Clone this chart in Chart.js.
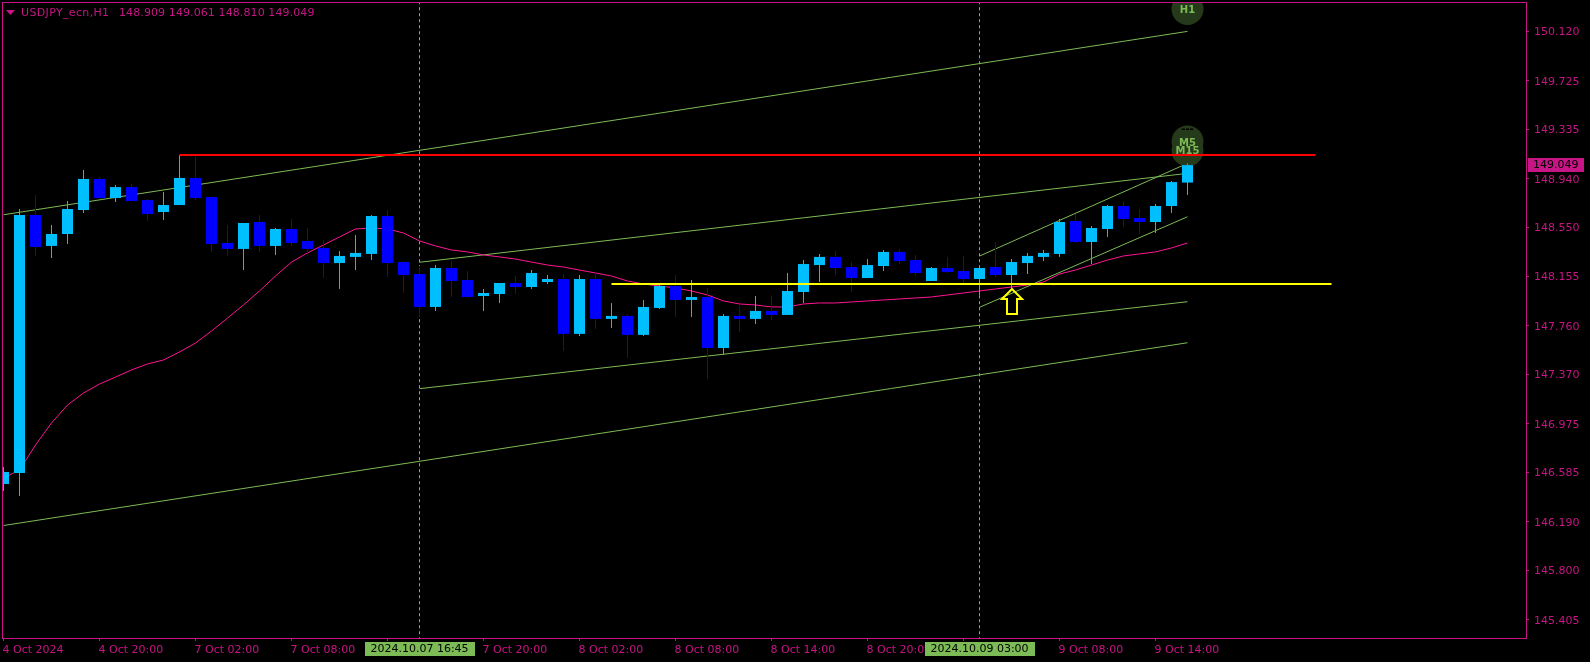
<!DOCTYPE html>
<html lang="en">

<head>
    <meta charset="UTF-8" />
    <title>USDJPY_ecn,H1</title>
    <script src="https://cdn.jsdelivr.net/npm/chart.js"></script>
    <style>
        html, body { margin: 0; padding: 0; background: #000; overflow: hidden; }
        canvas { display: block; }
    </style>
</head>

<body>
    <canvas id="grafico" width="1590" height="662"></canvas>

    <script>
        // candle values, one entry per hour
        const opens = [146.493, 146.581, 148.649, 148.401, 148.497, 148.689, 148.938, 148.785, 148.873, 148.769,
            148.673, 148.729, 148.946, 148.793, 148.425, 148.377, 148.593, 148.401, 148.537, 148.441,
            148.385, 148.264, 148.313, 148.337, 148.641, 148.272, 148.176, 147.912, 148.224, 148.128,
            148.000, 148.016, 148.104, 148.072, 148.112, 148.136, 147.696, 148.136, 147.816, 147.840,
            147.688, 147.904, 148.080, 147.968, 147.992, 147.583, 147.840, 147.816, 147.880, 147.848,
            148.032, 148.248, 148.313, 148.232, 148.144, 148.240, 148.353, 148.288, 148.120, 148.224,
            148.200, 148.136, 148.232, 148.168, 148.264, 148.313, 148.337, 148.601, 148.433, 148.537,
            148.721, 148.625, 148.593, 148.721, 148.909];
        const highs = [146.629, 148.697, 148.809, 148.569, 148.761, 149.010, 148.954, 148.889, 148.897, 148.777,
            148.833, 149.130, 149.114, 148.793, 148.569, 148.585, 148.649, 148.545, 148.617, 148.545,
            148.449, 148.361, 148.489, 148.649, 148.689, 148.280, 148.240, 148.248, 148.280, 148.200,
            148.056, 148.104, 148.160, 148.208, 148.168, 148.176, 148.168, 148.184, 147.944, 147.856,
            147.968, 148.104, 148.168, 148.128, 148.064, 147.856, 147.952, 148.000, 148.000, 148.184,
            148.288, 148.337, 148.361, 148.272, 148.296, 148.369, 148.377, 148.329, 148.232, 148.313,
            148.321, 148.224, 148.433, 148.296, 148.345, 148.369, 148.617, 148.657, 148.561, 148.729,
            148.761, 148.697, 148.737, 148.921, 149.061];
        const lows = [146.437, 146.397, 148.321, 148.304, 148.417, 148.665, 148.780, 148.753, 148.761, 148.601,
            148.609, 148.729, 148.769, 148.353, 148.321, 148.208, 148.353, 148.329, 148.401, 148.329,
            148.144, 148.056, 148.208, 148.288, 148.152, 148.024, 147.840, 147.880, 147.992, 147.984,
            147.880, 147.944, 148.016, 148.056, 148.096, 147.559, 147.680, 147.736, 147.744, 147.503,
            147.680, 147.896, 147.832, 147.832, 147.334, 147.527, 147.712, 147.776, 147.808, 147.848,
            147.944, 148.112, 148.168, 148.032, 148.144, 148.200, 148.256, 148.160, 148.120, 148.184,
            148.104, 148.008, 148.152, 148.064, 148.176, 148.280, 148.313, 148.425, 148.256, 148.473,
            148.553, 148.497, 148.505, 148.665, 148.810];
        const closes = [146.589, 148.649, 148.393, 148.497, 148.697, 148.938, 148.785, 148.873, 148.761, 148.657,
            148.729, 148.946, 148.785, 148.417, 148.377, 148.585, 148.401, 148.537, 148.425, 148.377,
            148.264, 148.321, 148.345, 148.641, 148.264, 148.168, 147.912, 148.224, 148.120, 147.992,
            148.024, 148.104, 148.072, 148.184, 148.136, 147.696, 148.136, 147.816, 147.840, 147.688,
            147.912, 148.080, 147.968, 147.992, 147.583, 147.840, 147.816, 147.880, 147.848, 148.040,
            148.256, 148.313, 148.224, 148.144, 148.248, 148.353, 148.280, 148.184, 148.224, 148.192,
            148.136, 148.224, 148.168, 148.272, 148.321, 148.345, 148.593, 148.433, 148.545, 148.721,
            148.617, 148.593, 148.721, 148.913, 149.049];

        // pink moving average
        const movingAverage = [146.541, 146.605, 146.805, 146.982, 147.126, 147.222, 147.294, 147.350, 147.407, 147.455,
            147.487, 147.551, 147.623, 147.719, 147.823, 147.928, 148.040, 148.160, 148.272, 148.345,
            148.409, 148.473, 148.537, 148.545, 148.537, 148.505, 148.441, 148.401, 148.369, 148.353,
            148.329, 148.313, 148.296, 148.272, 148.248, 148.232, 148.208, 148.184, 148.160, 148.120,
            148.096, 148.080, 148.064, 148.040, 148.008, 147.960, 147.936, 147.928, 147.912, 147.912,
            147.936, 147.944, 147.944, 147.952, 147.960, 147.968, 147.976, 147.984, 147.992, 148.008,
            148.024, 148.040, 148.056, 148.072, 148.088, 148.112, 148.176, 148.208, 148.248, 148.288,
            148.321, 148.337, 148.353, 148.385, 148.425];

        // trend lines: first bar, last bar, price at each end
        const trendStartBars = [0, 0, 26, 26, 61, 61];
        const trendEndBars = [74, 74, 74, 74, 74, 74];
        const trendStartPrices = [148.651, 146.160, 148.270, 147.257, 148.320, 147.909];
        const trendEndPrices = [150.121, 147.625, 148.983, 147.954, 149.063, 148.635];

        // horizontal levels: red and yellow
        const levelPrices = [149.130, 148.096];
        const levelStartBars = [11, 38];
        const levelEndBars = [82, 83];
        const levelColors = ['#FF0000', '#FFFF00'];

        // dashed verticals and their time labels
        const markerBars = [26, 61];
        const markerLabels = ['2024.10.07 16:45', '2024.10.09 03:00'];

        // timeframe bubbles
        const bubbleBars = [74, 74, 74];
        const bubblePrices = [150.300, 149.238, 149.166];
        const bubbleLabels = ['H1', 'M5', 'M15'];

        const arrowBar = 63;
        const arrowPrice = 148.064;

        const priceTicks = [150.120, 149.725, 149.335, 148.940, 148.550, 148.155, 147.760, 147.370, 146.975, 146.585, 146.190, 145.800, 145.405];
        const timeTickBars = [0, 6, 12, 18, 24, 30, 36, 42, 48, 54, 60, 66, 72];
        const timeTickLabels = ['4 Oct 2024', '4 Oct 20:00', '7 Oct 02:00', '7 Oct 08:00', '7 Oct 14:00', '7 Oct 20:00', '8 Oct 02:00',
            '8 Oct 08:00', '8 Oct 14:00', '8 Oct 20:00', '9 Oct 02:00', '9 Oct 08:00', '9 Oct 14:00'];

        const headerSymbol = 'USDJPY_ecn,H1';
        const headerValues = '148.909 149.061 148.810 149.049';
        const lastPrice = 149.049;

        const axisColor = '#C71585';
        const lineGreen = '#7CBB55';
        const bullColor = '#00BFFF';
        const bearColor = '#0000FF';
        const fontName = '"DejaVu Sans"';

        const bars = closes.map((c, i) => i);
        const candleColors = bars.map(i => closes[i] >= opens[i] ? bullColor : bearColor);

        const datasets = [];

        // dashed verticals, behind everything
        markerBars.forEach(b => {
            datasets.push({
                type: 'line', data: [{ x: b, y: 145 }, { x: b, y: 151 }],
                borderColor: lineGreen, borderWidth: 1, borderDash: [3, 3], pointRadius: 0, order: 60
            });
        });

        // trend lines
        trendStartBars.forEach((b, i) => {
            datasets.push({
                type: 'line', data: [{ x: b, y: trendStartPrices[i] }, { x: trendEndBars[i], y: trendEndPrices[i] }],
                borderColor: lineGreen, borderWidth: 1, pointRadius: 0, order: 50
            });
        });

        // moving average
        datasets.push({
            type: 'line', data: bars.map(i => ({ x: i, y: movingAverage[i] })),
            borderColor: '#FF1493', borderWidth: 1, pointRadius: 0, tension: 0, order: 45
        });

        // bubbles with the timeframe text
        datasets.push({
            type: 'scatter', label: 'bubbles', data: bubbleBars.map((b, i) => ({ x: b, y: bubblePrices[i] })),
            backgroundColor: '#253A1A', borderWidth: 0, pointRadius: 16, pointHoverRadius: 16, order: 40
        });

        // candles: wick then body, both floating bars
        datasets.push({
            type: 'bar', data: bars.map(i => ({ x: i, y: [lows[i], highs[i]] })),
            backgroundColor: candleColors, barThickness: 1, grouped: false, inflateAmount: 0, order: 30
        });
        datasets.push({
            type: 'bar', data: bars.map(i => ({ x: i, y: [opens[i], closes[i]] })),
            backgroundColor: candleColors, barThickness: 11, grouped: false, inflateAmount: 0, order: 20
        });

        // red and yellow levels over the candles
        levelPrices.forEach((p, i) => {
            datasets.push({
                type: 'line', data: [{ x: levelStartBars[i], y: p }, { x: levelEndBars[i], y: p }],
                borderColor: levelColors[i], borderWidth: 2, pointRadius: 0, order: 10
            });
        });

        // text and small shapes that Chart.js has no element for
        const anotacoes = {
            id: 'anotacoes',
            beforeDatasetsDraw(chart) {
                const ctx = chart.ctx;
                const a = chart.chartArea;
                ctx.save();
                ctx.strokeStyle = axisColor;
                ctx.lineWidth = 1;
                ctx.strokeRect(a.left - 0.5, a.top - 0.5, a.right - a.left + 1, a.bottom - a.top + 1);
                ctx.restore();
            },
            afterDatasetDraw(chart, args) {
                if (args.meta.label !== 'bubbles') return;
                const ctx = chart.ctx;
                ctx.save();
                ctx.font = 'bold 10px ' + fontName;
                ctx.fillStyle = lineGreen;
                ctx.textAlign = 'center';
                ctx.textBaseline = 'middle';
                bubbleLabels.forEach((t, i) => {
                    const x = chart.scales.x.getPixelForValue(bubbleBars[i]);
                    const y = chart.scales.y.getPixelForValue(bubblePrices[i]);
                    ctx.fillText(t, x, y + (i === 1 ? 2 : 1));
                });
                ctx.fillStyle = '#000';
                ctx.fillText('---', chart.scales.x.getPixelForValue(bubbleBars[1]), chart.scales.y.getPixelForValue(bubblePrices[1]) - 12);
                ctx.restore();
            },
            afterDraw(chart) {
                const ctx = chart.ctx;
                const sx = chart.scales.x;
                const sy = chart.scales.y;
                ctx.save();

                // arrow
                const ax = Math.round(sx.getPixelForValue(arrowBar));
                const ay = sy.getPixelForValue(arrowPrice);
                ctx.strokeStyle = '#FFFF00';
                ctx.lineWidth = 2;
                ctx.beginPath();
                ctx.moveTo(ax, ay + 1);
                ctx.lineTo(ax + 10, ay + 11);
                ctx.lineTo(ax + 5, ay + 11);
                ctx.lineTo(ax + 5, ay + 26);
                ctx.lineTo(ax - 5, ay + 26);
                ctx.lineTo(ax - 5, ay + 11);
                ctx.lineTo(ax - 10, ay + 11);
                ctx.closePath();
                ctx.stroke();

                ctx.font = '11px ' + fontName;
                ctx.textBaseline = 'middle';

                // header
                ctx.fillStyle = axisColor;
                ctx.beginPath();
                ctx.moveTo(6, 10);
                ctx.lineTo(15, 10);
                ctx.lineTo(10.5, 15);
                ctx.closePath();
                ctx.fill();
                ctx.textAlign = 'left';
                ctx.letterSpacing = '0.35px';
                ctx.fillText(headerSymbol, 21, 13);
                ctx.letterSpacing = '0.1px';
                ctx.fillText(headerValues, 119, 13);
                ctx.letterSpacing = '0px';

                // time labels on the dashed lines
                ctx.textAlign = 'center';
                markerBars.forEach((b, i) => {
                    const x = sx.getPixelForValue(b);
                    ctx.fillStyle = lineGreen;
                    ctx.fillRect(Math.round(x) - 55, 642, 110, 14);
                    ctx.fillStyle = '#000';
                    ctx.fillText(markerLabels[i], x, 649.5);
                });

                // last price box
                const py = Math.round(sy.getPixelForValue(lastPrice));
                ctx.fillStyle = axisColor;
                ctx.fillRect(1528, py - 7, 56, 14);
                ctx.fillStyle = '#000';
                ctx.textAlign = 'left';
                ctx.fillText(lastPrice.toFixed(3), 1533, py + 0.5);
                ctx.restore();
            }
        };

        // no label overflow padding, the plot area has to stay where it is
        function semPadding(axis) {
            axis.paddingTop = 0;
            axis.paddingBottom = 0;
            axis.paddingLeft = 0;
            axis.paddingRight = 0;
        }

        new Chart(document.getElementById('grafico'), {
            type: 'bar',
            data: { datasets: datasets },
            plugins: [anotacoes],
            options: {
                responsive: false,
                animation: false,
                devicePixelRatio: 1,
                layout: { autoPadding: false, padding: { left: 3, top: 3, right: 0, bottom: 0 } },
                plugins: { legend: { display: false }, tooltip: { enabled: false } },
                events: [],
                scales: {
                    x: {
                        type: 'linear',
                        offset: false,
                        min: -0.03125,
                        max: 95.15625,
                        afterBuildTicks: axis => { axis.ticks = timeTickBars.map(v => ({ value: v })); },
                        afterFit: axis => { axis.height = 24; semPadding(axis); },
                        grid: { offset: false, drawOnChartArea: false, tickColor: axisColor, tickLength: 3 },
                        border: { display: false },
                        ticks: {
                            autoSkip: false, maxRotation: 0, align: 'start', labelOffset: -1, padding: 3,
                            color: axisColor, font: { family: 'DejaVu Sans', size: 11 },
                            callback: (v, i) => timeTickLabels[i]
                        }
                    },
                    y: {
                        position: 'right',
                        min: 145.2583,
                        max: 150.3485,
                        afterBuildTicks: axis => { axis.ticks = priceTicks.map(v => ({ value: v })); },
                        afterFit: axis => { axis.width = 64; semPadding(axis); },
                        grid: { drawOnChartArea: false, tickColor: axisColor, tickLength: 3 },
                        border: { display: false },
                        ticks: {
                            autoSkip: false, padding: 5, crossAlign: 'near', labelOffset: 1,
                            color: axisColor, font: { family: 'DejaVu Sans', size: 11 },
                            callback: v => v.toFixed(3)
                        }
                    }
                }
            }
        });
    </script>
</body>

</html>
